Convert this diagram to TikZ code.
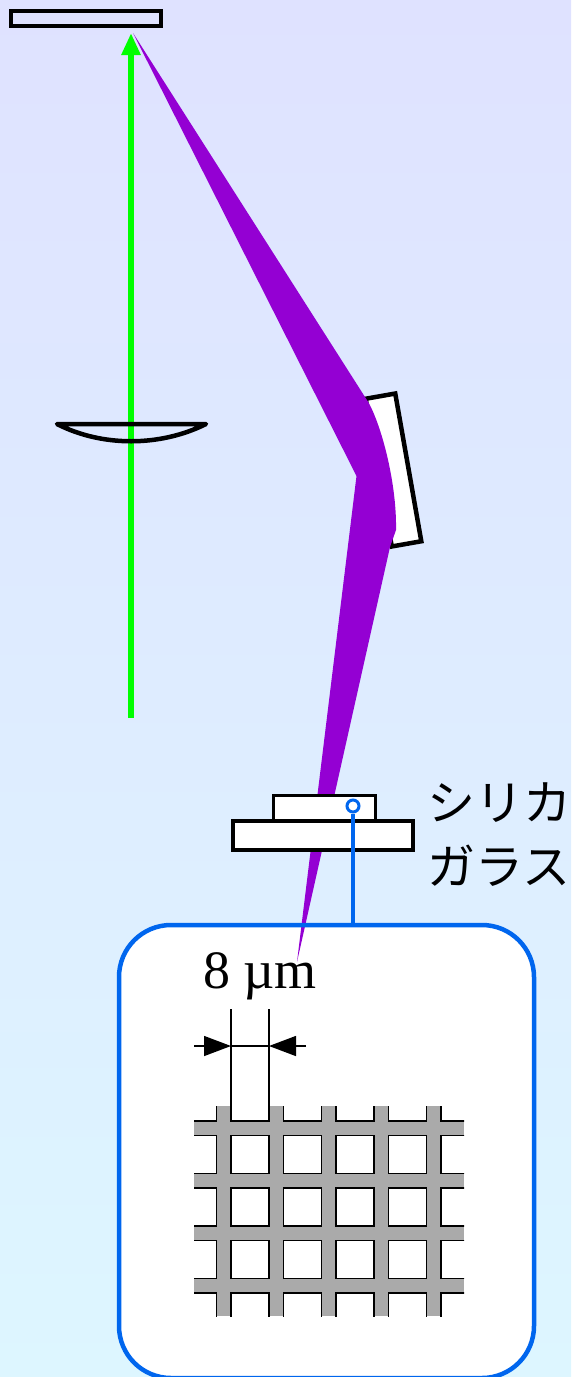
\documentclass[tikz,border=0pt]{standalone}
\usepackage{fontspec}
\setmainfont{Liberation Serif}
\newfontfamily\jpfont{Noto Sans CJK JP}
\usetikzlibrary{arrows.meta}
\definecolor{bgtop}{RGB}{223,226,255}
\definecolor{bgbot}{RGB}{221,246,255}
\definecolor{beam}{RGB}{148,0,211}
\definecolor{pointer}{RGB}{0,102,238}
\definecolor{meshgray}{RGB}{170,170,170}
\definecolor{laser}{RGB}{0,255,0}
\tikzset{
  box/.style={draw=black,line width=#1,inner sep=0pt,outer sep=0pt},
  whitebox/.style={box=#1,fill=white},
  insetframe/.style={draw=pointer,line width=4.5pt,rounded corners=52pt,inner sep=0pt,outer sep=0pt,minimum width=415pt,minimum height=453pt},
  insetfill/.style={fill=white,rounded corners=52pt,inner sep=0pt,outer sep=0pt,minimum width=415pt,minimum height=453pt},
  dimline/.style={line width=1.4pt,black},
  dimtip/.style={-{Triangle[length=27pt,width=20pt]}},
  lensline/.style={line width=4.5pt,line join=round,line cap=round},
  hole/.style={fill=white,draw=black,line width=1.7pt},
  pointerline/.style={draw=pointer,line width=3.5pt}
}
\begin{document}
\begin{tikzpicture}[x=1pt,y=-1pt]
\useasboundingbox (0,0) rectangle (571,1377);
\fill[top color=bgtop,bottom color=bgbot] (0,0) rectangle (571,1377);
% top plate
\node[box=4.5pt,minimum width=150pt,minimum height=15pt] (plate) at (86,18.5) {};
% laser
\coordinate (laserstart) at (131,718);
\coordinate (lasertip) at (131,33);
\draw[laser,line width=6pt,-{Triangle[length=22pt,width=18pt]}] (laserstart) -- (lasertip);
% lens
\draw[lensline] (57,424) -- (206,424) .. controls (160,447) and (102,447) .. (57,424) -- cycle;
% mirror
\node[whitebox=4.5pt,minimum width=30pt,minimum height=150pt,rotate=10] (mirror) at (393.5,470) {};
% inset fill
\node[insetfill] (insetbg) at (326.5,1151.5) {};
% beam
\fill[beam] (133,33) -- (365,397) .. controls (379,416) and (397,480) .. (396,530)
  -- (390,547) -- (297,962) -- (356.5,476) -- cycle;
% glass
\node[whitebox=3pt,minimum width=102pt,minimum height=25pt] (sample) at (324.7,807.5) {};
\node[whitebox=4.5pt,minimum width=180pt,minimum height=29pt] (stage) at (323,835.5) {};
% inset frame and pointer
\node[insetframe] (inset) at (326.5,1151.5) {};
\node[circle,draw=pointer,fill=white,line width=3pt,minimum size=12pt,inner sep=0pt] (dot) at (353,806) {};
\draw[pointerline] (dot.south) -- (dot.south |- inset.north);
% mesh
\begin{scope}
\clip (194,1106) rectangle (464,1316);
\fill[meshgray] (194,1106) rectangle (464,1316);
\foreach \cx in {0,1,2,3,4,5}
  \foreach \cy in {0,1,2,3,4}
    \draw[hole] ({178.5+52.5*\cx},{1083+52.5*\cy}) rectangle ++(38,38);
\end{scope}
% dimension
\coordinate (dimL) at (231,1046);
\coordinate (dimR) at (269,1046);
\coordinate (dimLout) at (194,1046);
\coordinate (dimRout) at (306,1046);
\draw[line width=1.5pt] (231,1009) -- (231,1121);
\draw[line width=1.5pt] (269,1009) -- (269,1121);
\draw[dimline] (dimL) -- (dimR);
\draw[dimline,dimtip] (dimLout) -- (dimL);
\draw[dimline,dimtip] (dimRout) -- (dimR);
% labels
\node[anchor=base west,inner sep=0pt] (size) at (203,988) {\fontsize{54}{60}\selectfont 8 µm};
\node[anchor=base west,inner sep=0pt] (silica) at (427,820) {\fontsize{48}{50}\selectfont\jpfont シリカ};
\node[anchor=base west,inner sep=0pt] (glass) at (427,884) {\fontsize{48}{50}\selectfont\jpfont ガラス};
\end{tikzpicture}
\end{document}
